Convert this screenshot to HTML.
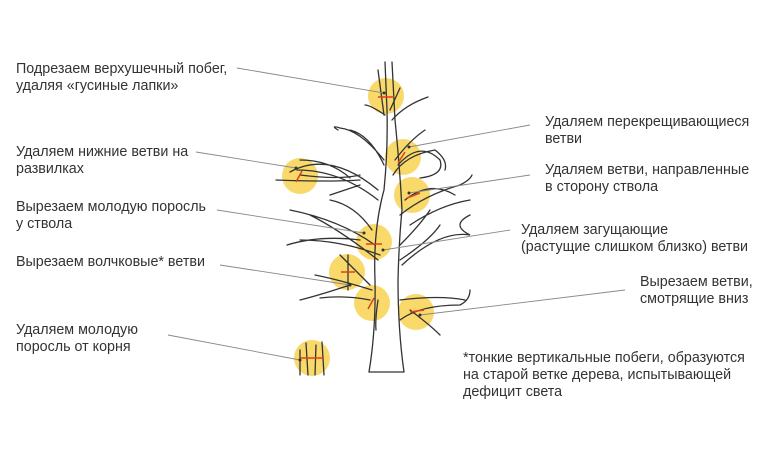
<html><body style="margin:0;background:#fff;width:773px;height:454px;overflow:hidden;position:relative;font-family:'Liberation Sans',sans-serif;">
<svg width="773" height="454" style="position:absolute;left:0;top:0">
<g fill="#f9d96a">
<circle cx="386" cy="96" r="18"/><circle cx="403" cy="157" r="18"/><circle cx="300" cy="176" r="18"/>
<circle cx="412" cy="195" r="18"/><circle cx="374" cy="242" r="18"/><circle cx="347" cy="272" r="18"/>
<circle cx="372" cy="303" r="18"/><circle cx="416" cy="312" r="18"/><circle cx="312" cy="358" r="18"/>
</g>
<g stroke="#333" stroke-width="1.3" fill="none" stroke-linecap="round">
<path d="M369 372 Q376 330 375 280 Q373 230 384 190 Q388 150 387 110 L385 62 M404 372 Q398 330 398 280 Q399 240 402 210 Q400 170 395 120 L392 62 M369 372 L404 372"/>
<path d="M384 115 L378 70 M390 110 L400 88 M385 115 Q370 105 365 105 M392 120 Q405 105 428 97 M384 160 Q360 130 340 128 Q330 125 338 130 M384 165 Q370 135 350 130 M378 190 Q330 150 290 172 M378 200 Q340 170 297 170 M360 175 Q340 180 300 175 M360 180 Q330 182 276 180 M350 178 Q330 160 300 160 M360 185 Q345 190 330 195 M395 160 Q410 140 425 130 M393 175 Q405 155 435 150 Q448 160 445 170 M398 165 Q420 140 440 160 Q445 175 420 178 M400 215 Q425 195 460 185 Q470 180 472 175 M405 200 Q430 180 455 195 M410 225 Q440 205 470 200 M375 245 Q340 220 290 210 M380 255 Q340 240 300 240 M378 260 Q340 230 310 215 M372 230 Q355 205 330 200 M360 240 Q320 235 287 245 M402 265 Q440 230 470 235 Q450 225 470 215 M400 260 Q430 240 440 225 M400 245 Q420 225 430 210 M372 290 Q340 280 315 275 M370 285 Q350 265 340 255 M350 285 Q320 295 300 300 M348 290 L348 255 M370 300 Q345 295 320 298 M378 300 Q375 320 376 330 M400 320 Q420 305 460 305 Q470 300 470 290 M410 310 Q430 325 440 335 M400 300 Q440 295 465 300 M300 350 L300 375 M306 343 L308 375 M316 345 L315 375 M322 342 L324 375"/>
</g>
<g stroke="#e0411b" stroke-width="1.5">
<path d="M378 97 L394 97 M398 163 L405 152 M296 182 L302 171 M407 198 L420 193 M366 244 L382 244 M341 272 L355 272 M368 309 L374 298 M410 312 L424 310 M300 358 L324 358"/>
</g>
<g stroke="#888" stroke-width="0.9">
<path d="M237 68 L384 93 M196 152 L296 168 M217 210 L364 233 M220 265 L350 285 M168 335 L300 360 M530 125 L409 147 M530 175 L409 193 M510 230 L383 250 M625 290 L420 315"/>
</g>
<g fill="#333">
<circle cx="384" cy="93" r="1.5"/><circle cx="296" cy="168" r="1.5"/><circle cx="364" cy="233" r="1.5"/><circle cx="350" cy="285" r="1.5"/><circle cx="300" cy="360" r="1.5"/><circle cx="409" cy="147" r="1.5"/><circle cx="409" cy="193" r="1.5"/><circle cx="383" cy="250" r="1.5"/><circle cx="420" cy="315" r="1.5"/>
</g>
<g font-family="Liberation Sans, sans-serif" font-size="14.3" fill="#333">
<text x="16" y="73">Подрезаем верхушечный побег,</text><text x="16" y="90">удаляя «гусиные лапки»</text>
<text x="16" y="156">Удаляем нижние ветви на</text><text x="16" y="173">развилках</text>
<text x="16" y="211">Вырезаем молодую поросль</text><text x="16" y="228">у ствола</text>
<text x="16" y="266">Вырезаем волчковые* ветви</text>
<text x="16" y="334">Удаляем молодую</text><text x="16" y="351">поросль от корня</text>
<text x="545" y="126">Удаляем перекрещивающиеся</text><text x="545" y="143">ветви</text>
<text x="545" y="174">Удаляем ветви, направленные</text><text x="545" y="191">в сторону ствола</text>
<text x="521" y="234">Удаляем загущающие</text><text x="521" y="251">(растущие слишком близко) ветви</text>
<text x="640" y="286">Вырезаем ветви,</text><text x="640" y="303">смотрящие вниз</text>
<text x="463" y="362">*тонкие вертикальные побеги, образуются</text><text x="463" y="379">на старой ветке дерева, испытывающей</text><text x="463" y="396">дефицит света</text>
</g>
</svg>
</body></html>
